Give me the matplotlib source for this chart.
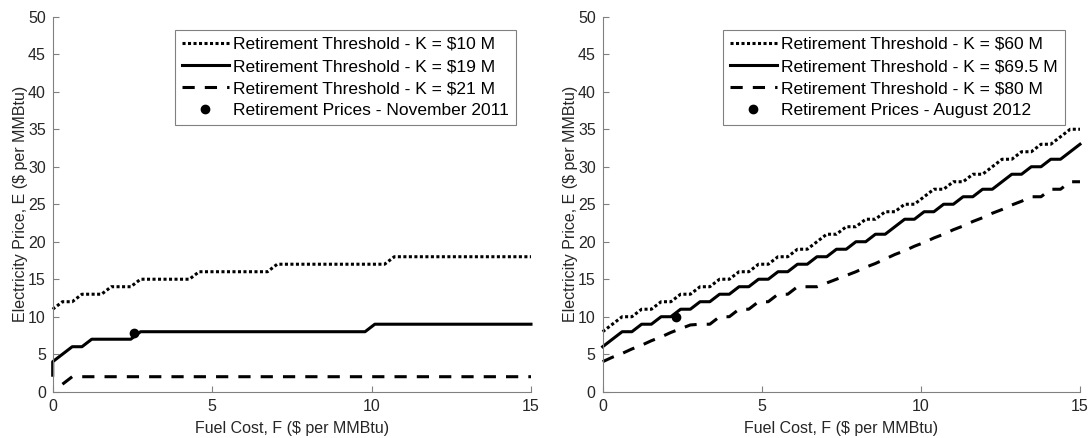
#%% Imports
import numpy as np
import matplotlib
matplotlib.use('Agg')
import matplotlib.pyplot as plt

plt.rc('font', **{'family': 'Liberation Sans', 'size': 11.5})

#%% Data
# fuel cost grid ($ per MMBtu), 50 points from 0 to 15
fuel = np.linspace(0, 15, 50)

# November 2011 thresholds (left panel)
E_K10 = [11, 12, 12, 13, 13, 13, 14, 14, 14, 15, 15, 15, 15, 15, 15, 16, 16, 16,
         16, 16, 16, 16, 16, 17, 17, 17, 17, 17, 17, 17, 17, 17, 17, 17, 17, 18,
         18, 18, 18, 18, 18, 18, 18, 18, 18, 18, 18, 18, 18, 18]
E_K19_start = 2.2   # first value at F = 0, before the jump
E_K19 = [4, 5, 6, 6, 7, 7, 7, 7, 7, 8, 8, 8, 8, 8, 8, 8, 8, 8, 8, 8, 8, 8, 8, 8,
         8, 8, 8, 8, 8, 8, 8, 8, 8, 9, 9, 9, 9, 9, 9, 9, 9, 9, 9, 9, 9, 9, 9, 9,
         9, 9]
E_K21 = [np.nan, 1, 2, 2, 2, 2, 2, 2, 2, 2, 2, 2, 2, 2, 2, 2, 2, 2, 2, 2, 2, 2,
         2, 2, 2, 2, 2, 2, 2, 2, 2, 2, 2, 2, 2, 2, 2, 2, 2, 2, 2, 2, 2, 2, 2, 2,
         2, 2, 2, 2]
F_nov2011 = [2.55]
E_nov2011 = [7.8]

# August 2012 thresholds (right panel)
E_K60 = [8, 9, 10, 10, 11, 11, 12, 12, 13, 13, 14, 14, 15, 15, 16, 16, 17, 17,
         18, 18, 19, 19, 20, 21, 21, 22, 22, 23, 23, 24, 24, 25, 25, 26, 27, 27,
         28, 28, 29, 29, 30, 31, 31, 32, 32, 33, 33, 34, 35, 35]
E_K695 = [6, 7, 8, 8, 9, 9, 10, 10, 11, 11, 12, 12, 13, 13, 14, 14, 15, 15, 16,
          16, 17, 17, 18, 18, 19, 19, 20, 20, 21, 21, 22, 23, 23, 24, 24, 25, 25,
          26, 26, 27, 27, 28, 29, 29, 30, 30, 31, 31, 32, 33]
E_K80 = [4, 4.6, 5.1, 5.7, 6.2, 6.8, 7.3, 7.9, 8.4, 8.9, 9, 9, 10, 10, 11, 11,
         12, 12, 13, 13, 14, 14, 14, 14.5, 15, 15.5, 16, 16.6, 17.1, 17.7, 18.3,
         18.8, 19.4, 19.9, 20.5, 21, 21.6, 22.1, 22.7, 23.2, 23.8, 24.3, 24.9,
         25.4, 26, 26, 27, 27, 28, 28]
F_aug2012 = [2.3]
E_aug2012 = [10.0]

#%% Plotting
dotted = (0, (1, 0.8))
dashed = (0, (4, 3.3))
lw = 2.2
axcol = '0.5'

fig = plt.figure(figsize=(10.91, 4.38), dpi=100)
ax1 = fig.add_axes([0.0483, 0.1057, 0.4384, 0.856])
ax2 = fig.add_axes([0.5524, 0.1057, 0.4375, 0.856])

ax1.plot(fuel, E_K10, color='k', lw=lw, ls=dotted, label=r'Retirement Threshold - K = \$10 M')
ax1.plot(np.r_[0, fuel], np.r_[E_K19_start, E_K19], color='k', lw=lw, label=r'Retirement Threshold - K = \$19 M')
ax1.plot(fuel, E_K21, color='k', lw=lw, ls=dashed, label=r'Retirement Threshold - K = \$21 M')
ax1.plot(F_nov2011, E_nov2011, 'o', color='k', ms=6, label='Retirement Prices - November 2011')

ax2.plot(fuel, E_K60, color='k', lw=lw, ls=dotted, label=r'Retirement Threshold - K = \$60 M')
ax2.plot(fuel, E_K695, color='k', lw=lw, label=r'Retirement Threshold - K = \$69.5 M')
ax2.plot(fuel, E_K80, color='k', lw=lw, ls=dashed, label=r'Retirement Threshold - K = \$80 M')
ax2.plot(F_aug2012, E_aug2012, 'o', color='k', ms=6, label='Retirement Prices - August 2012')

for ax in (ax1, ax2):
    ax.set_xlim(0, 15)
    ax.set_ylim(0, 50)
    ax.set_xticks([0, 5, 10, 15])
    ax.set_yticks(np.arange(0, 51, 5))
    for s in ('top', 'right'):
        ax.spines[s].set_visible(False)
    for s in ('left', 'bottom'):
        ax.spines[s].set_color(axcol)
        ax.spines[s].set_linewidth(0.8)
    ax.tick_params(direction='in', length=4, width=0.8, color=axcol,
                   labelcolor='0.15', labelsize=11.5, pad=5)
    ax.set_xlabel(r'Fuel Cost, F (\$ per MMBtu)', color='0.15', labelpad=5)
    ax.set_ylabel(r'Electricity Price, E (\$ per MMBtu)', color='0.15', labelpad=0)
    for line in ax.get_lines():
        line.set_dash_capstyle('butt')
        line.set_clip_on(False)
    leg = ax.legend(loc='upper right', bbox_to_anchor=(0.968, 0.965), fontsize=12.5,
                    handlelength=2.7, handletextpad=0.25, labelspacing=0.4,
                    borderpad=0.4, borderaxespad=0, fancybox=False, framealpha=1,
                    edgecolor=axcol)
    leg.get_frame().set_linewidth(0.8)

plt.savefig('out.png', dpi=100)
